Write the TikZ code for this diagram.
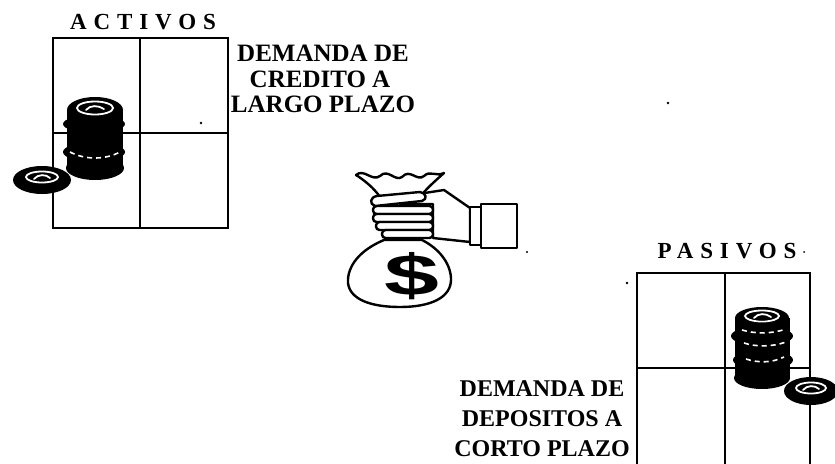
\documentclass[tikz,border=0pt]{standalone}
\usepackage{fontspec}
\setmainfont{Liberation Serif}
\setsansfont{Liberation Sans}
\begin{document}
\begin{tikzpicture}[x=1pt,y=-1pt,
  gridline/.style={line width=2.8pt, line cap=rect},
  heading/.style={font=\fontsize{23}{23}\selectfont\bfseries\addfontfeature{LetterSpace=30}, inner sep=0pt, anchor=base},
  caption/.style={font=\fontsize{25}{25}\selectfont\bfseries, inner sep=0pt, anchor=base},
  smallcaption/.style={caption, font=\fontsize{24}{24}\selectfont\bfseries},
  outline/.style={line width=2.4pt, line join=round, line cap=round},
  shine/.style={white, line width=1.8pt, line cap=round},
  shinedash/.style={white, line width=1.6pt, dash pattern=on 5pt off 4pt},
  speck/.style={fill=black},
]
\useasboundingbox (0,0) rectangle (835,463);

% ---------- ACTIVOS table ----------
\node[heading] (activos) at (143,29) {ACTIVOS};
\draw[gridline] (53,38) rectangle (228,228);
\draw[gridline] (140,38) -- (140,228);
\draw[gridline] (53,133) -- (228,133);

% stack of coins
\fill (95,110) ellipse [x radius=28pt, y radius=13pt];
\fill (67,110) rectangle (123,168);
\fill (94,124) ellipse [x radius=31pt, y radius=9pt];
\fill (94,152) ellipse [x radius=31pt, y radius=10pt];
\fill (95,168) ellipse [x radius=29pt, y radius=12pt];
\draw[shine] (95,108) ellipse [x radius=18pt, y radius=6.5pt];
\fill (95,109) ellipse [x radius=13pt, y radius=4pt];
\draw[shine] (86,110) .. controls (90,105) and (98,105) .. (104,109);
\draw[shinedash] (70,152) .. controls (85,160) and (105,160) .. (120,152);
% loose coin
\fill (42,180) ellipse [x radius=29pt, y radius=14pt];
\draw[shine] (42,177) ellipse [x radius=16pt, y radius=5.5pt];
\fill (42,178) ellipse [x radius=11pt, y radius=3pt];
\draw[shine] (34,179) .. controls (38,174) and (46,174) .. (50,178);

% ---------- caption upper right ----------
\node[caption] (credA) at (323,61) {DEMANDA DE};
\node[caption] (credB) at (320,87) {CREDITO A};
\node[caption] (credC) at (323,112) {LARGO PLAZO};

% ---------- money bag held by a hand ----------
% bag body
\draw[outline, fill=white] (384,240) .. controls (360,250) and (347,266) .. (348,283)
  .. controls (350,300) and (372,307) .. (400,307)
  .. controls (430,307) and (452,298) .. (451,278)
  .. controls (450,262) and (438,248) .. (422,240) -- cycle;
\node[font=\sffamily\bfseries\fontsize{58}{58}\selectfont, inner sep=0pt] (dollar) at (412,276) {\scalebox{1.7}[1]{\$}};
% ruffled top of the bag
\draw[outline, fill=white] (356,175)
  .. controls (364,168) and (372,182) .. (380,176)
  .. controls (388,168) and (395,182) .. (402,177)
  .. controls (410,168) and (417,182) .. (424,176)
  .. controls (430,170) and (436,177) .. (444,173)
  .. controls (434,182) and (426,189) .. (420,197)
  -- (380,197)
  .. controls (374,188) and (364,180) .. (356,175) -- cycle;
% back of the hand
\draw[outline, fill=white] (470,208) -- (444,190) -- (418,194) -- (400,204)
  -- (433,204) -- (433,238) -- (470,242) -- cycle;
% curled fingers
\foreach \fy/\fx in {206/373, 214/373, 222/376, 230/382}
  \draw[outline, fill=white, rounded corners=3.5pt] (\fx,\fy) rectangle (433,\fy+8);
% thumb
\draw[outline, fill=white] (375,206) .. controls (369,204) and (370,197) .. (377,196)
  -- (420,192) .. controls (426,193) and (428,199) .. (422,201) -- cycle;
% cuff and sleeve
\draw[outline, fill=white] (470,207) rectangle (481,245);
\draw[outline, fill=white] (481,204) rectangle (517,248);

% ---------- PASIVOS table ----------
\node[heading] (pasivos) at (727,258) {PASIVOS};
\draw[gridline] (637,470) -- (637,273) -- (810,273) -- (810,470);
\draw[gridline] (725,273) -- (725,470);
\draw[gridline] (637,368) -- (810,368);

% stack of coins
\fill (762,318) ellipse [x radius=27pt, y radius=11pt];
\fill (735,318) rectangle (790,378);
\fill (762,336) ellipse [x radius=31pt, y radius=10pt];
\fill (763,360) ellipse [x radius=30pt, y radius=10pt];
\fill (762,378) ellipse [x radius=28pt, y radius=11pt];
\draw[shine] (762,316) ellipse [x radius=17pt, y radius=5.5pt];
\fill (762,317) ellipse [x radius=12pt, y radius=3.5pt];
\draw[shine] (754,318) .. controls (758,313) and (766,313) .. (771,317);
\draw[shinedash] (742,330) .. controls (755,334) and (772,334) .. (786,329);
\draw[shinedash] (744,343) .. controls (756,347) and (772,347) .. (786,342);
\draw[shinedash] (746,359) .. controls (758,363) and (772,363) .. (784,357);
% loose coin
\fill (811,391) ellipse [x radius=27pt, y radius=14pt];
\draw[shine] (811,388) ellipse [x radius=15pt, y radius=5.5pt];
\fill (811,389) ellipse [x radius=10pt, y radius=3pt];
\draw[shine] (803,390) .. controls (807,385) and (815,385) .. (819,389);

% ---------- caption lower left ----------
\node[smallcaption] (depA) at (542,396) {DEMANDA DE};
\node[smallcaption] (depB) at (542,426) {DEPOSITOS A};
\node[smallcaption] (depC) at (542,456) {CORTO PLAZO};

% small specks
\fill[speck] (201,123) circle (1.4pt);
\fill[speck] (668,103) circle (1.3pt);
\fill[speck] (527,252) circle (1.2pt);
\fill[speck] (627,283) circle (1.3pt);
\fill[speck] (804,252) circle (1pt);
\end{tikzpicture}
\end{document}
